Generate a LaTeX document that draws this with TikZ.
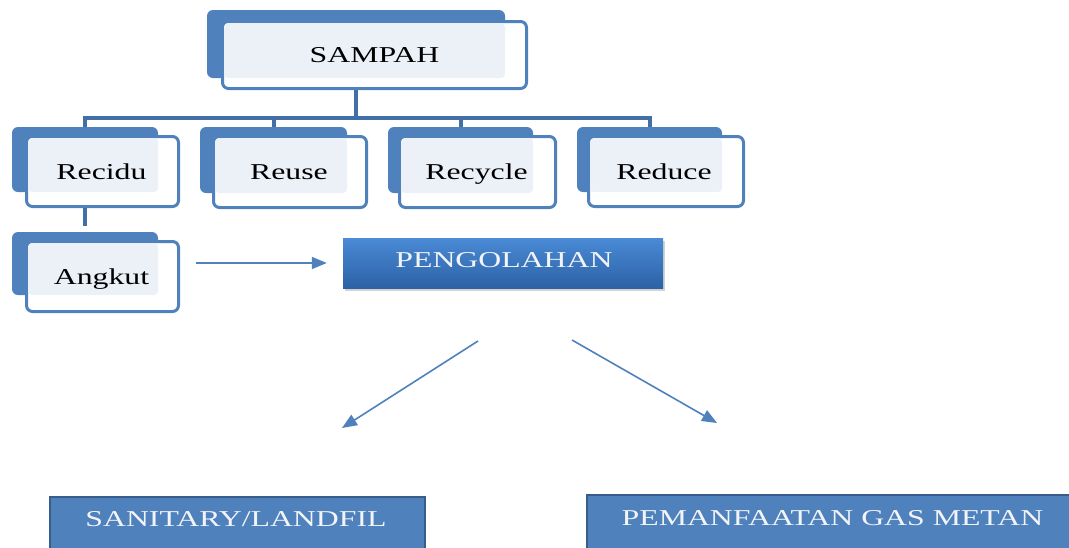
\documentclass[tikz,border=0pt]{standalone}
\usepackage{fontspec}
\setmainfont{Liberation Serif}[FakeStretch=1.4]
\usetikzlibrary{shadows,arrows.meta}
\definecolor{bblue}{RGB}{79,129,189}
\definecolor{lfill}{RGB}{236,241,248}
\definecolor{cline}{RGB}{66,112,166}
\definecolor{dborder}{RGB}{56,93,138}
\definecolor{gtop}{RGB}{74,138,214}
\definecolor{gbot}{RGB}{44,98,165}
\definecolor{wtext}{RGB}{242,244,248}
\tikzset{
  backbox/.style={fill=bblue, rounded corners=6pt, inner sep=0pt, draw=none},
  frontbox/.style={fill=white, draw=bblue, line width=3pt, rounded corners=6pt, inner sep=0pt},
  lbl/.style={font=\fontsize{22.7}{27}\selectfont, inner sep=0pt, text height=15pt, text depth=0pt},
  wlbl/.style={lbl, text=wtext},
  conn/.style={draw=cline, line width=4pt},
  arr/.style={draw=bblue, line width=1.6pt, -{Triangle[length=15pt,width=12pt]}},
  bluebox/.style={fill=bblue, draw=dborder, line width=2.5pt, inner sep=0pt},
  pbox/.style={top color=gtop, bottom color=gbot, draw=none, inner sep=0pt,
    drop shadow={opacity=0.35, shadow xshift=2pt, shadow yshift=-3pt}}
}
\newcommand\dbox[9]{%
  \node[backbox, minimum width={#4-#2}, minimum height={#5-#3}] (#1B) at ({(#2+#4)/2},{(#3+#5)/2}) {};
  \node[frontbox, minimum width={#8-#6-3}, minimum height={#9-#7-3}] (#1F) at ({(#6+#8)/2},{(#7+#9)/2}) {};
  \fill[lfill, rounded corners=4pt] (#6+3,#7+3) rectangle (#4,#5);
}
\begin{document}
\begin{tikzpicture}[x=1pt,y=-1pt]
\path[use as bounding box] (0,0) rectangle (1069,547);
\clip (0,0) rectangle (1069,547);
\fill[white] (0,0) rectangle (1069,547);

% boxes
\dbox{s}{207}{10}{505}{78}{221}{20}{528}{90}
\node[lbl] (sampah) at (sF) {SAMPAH};
\dbox{rc}{12}{127}{158}{192}{25}{135}{180}{208}
\node[lbl] (recidu) at ([xshift=-1pt]rcF) {Recidu};
\dbox{ru}{200}{127}{347}{193}{212}{135}{368}{209}
\node[lbl] (reuse) at ([xshift=-1pt]ruF) {Reuse};
\dbox{ry}{388}{127}{533}{193}{398}{135}{557}{209}
\node[lbl] (recycle) at ([xshift=-1pt]ryF) {Recycle};
\dbox{rd}{577}{127}{722}{192}{587}{135}{745}{208}
\node[lbl] (reduce) at ([xshift=-2pt]rdF) {Reduce};
\dbox{ak}{12}{232}{158}{295}{25}{240}{180}{313}
\node[lbl] (angkut) at ([xshift=-1pt]akF) {Angkut};

% tree connectors
\coordinate (bus) at (0,118);
\foreach \c in {rc,ru,ry,rd}{
  \draw[conn] (sB.south |- sF.south) -- (sB.south |- bus) -| (\c B.north);
}
\draw[conn, line width=3.5pt, shorten >=6pt] (rcB.south |- rcF.south) -- (akB.north);

% processing box
\node[pbox, minimum width=320pt, minimum height=50pt] (peng) at (503,263) {};
\node[wlbl] (pengT) at (504,260) {PENGOLAHAN};

% bottom boxes
\node[bluebox, minimum width=375pt, minimum height=70pt] (sanB) at (237.5,532) {};
\node[wlbl] (san) at (236,519) {SANITARY/LANDFIL};
\node[bluebox, minimum width=495pt, minimum height=70pt] (pemB) at (834.5,530) {};
\node[wlbl] (pem) at (832.5,518) {PEMANFAATAN GAS METAN};

% arrows
\draw[arr, shorten <=16pt, shorten >=16pt] (akF.east |- peng.west) -- (peng.west);
\coordinate (d1) at (478,341);
\coordinate (d2) at (342,428);
\coordinate (d3) at (572,340);
\coordinate (d4) at (717,423);
\draw[arr] (d1) -- (d2);
\draw[arr] (d3) -- (d4);
\end{tikzpicture}
\end{document}
